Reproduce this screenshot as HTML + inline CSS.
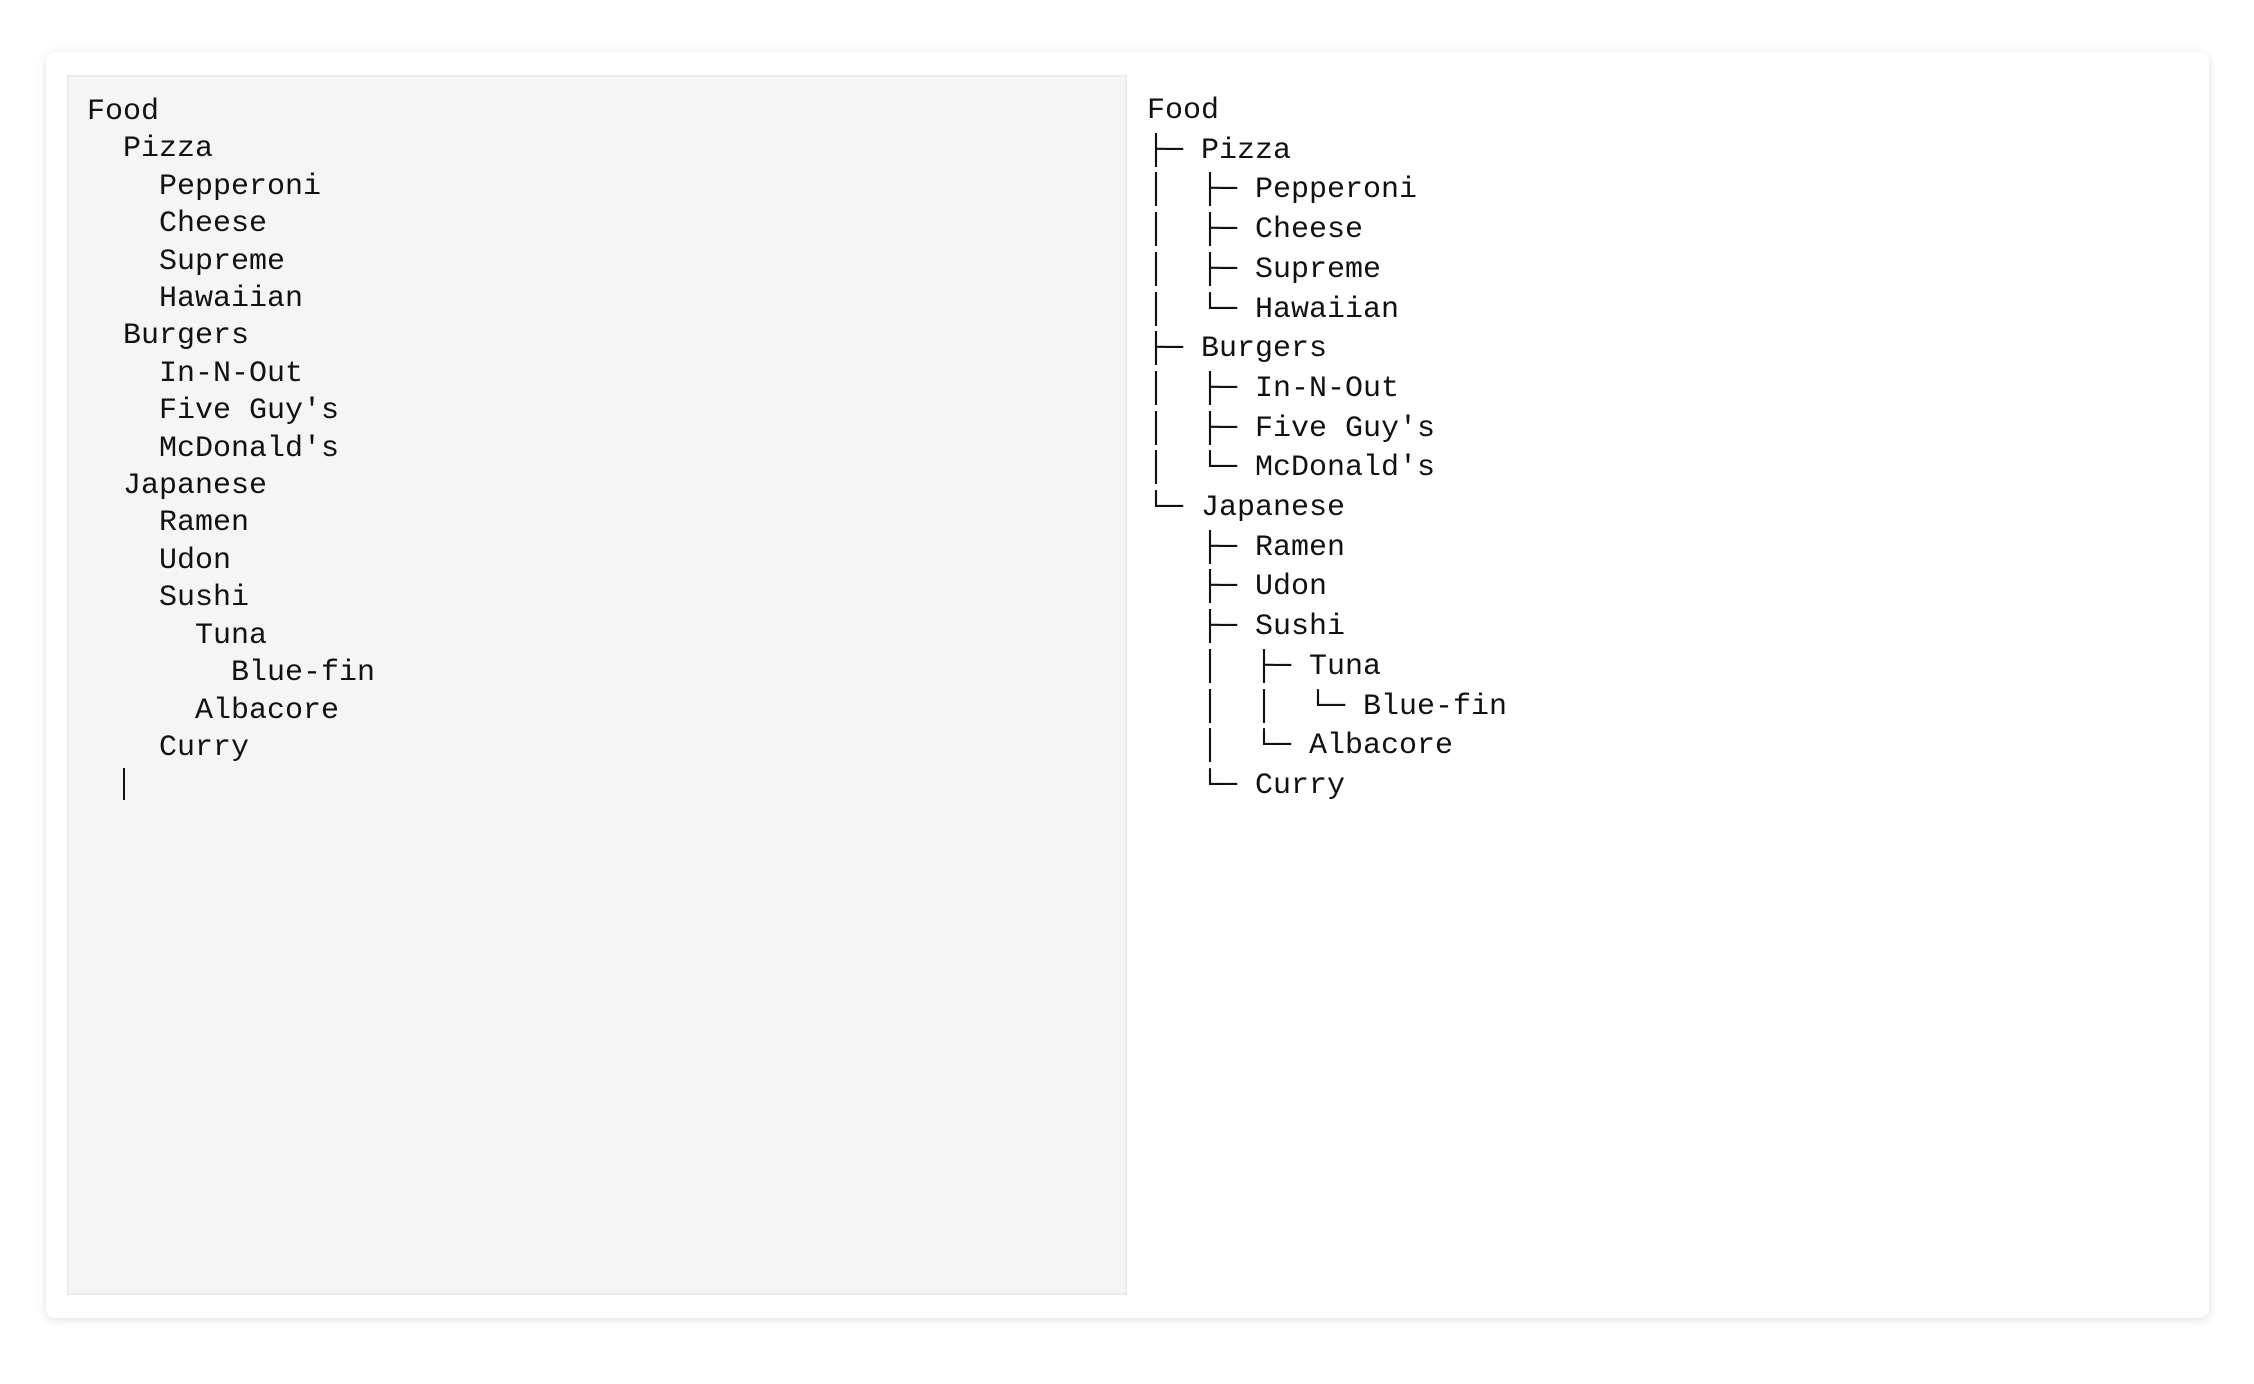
<!DOCTYPE html>
<html><head><meta charset="utf-8"><style>
html,body{margin:0;padding:0;background:#fff;width:2254px;height:1384px;overflow:hidden}
.card{position:absolute;left:46px;top:52px;width:2163px;height:1266px;background:#fff;border-radius:9px;box-shadow:0 2px 10px rgba(0,0,0,0.13)}
.left{position:absolute;left:67px;top:75px;width:1060px;height:1220px;background:#f5f5f5;box-shadow:inset 0 0 3px rgba(0,0,0,0.12)}
pre{margin:0;position:absolute;font-family:"Liberation Mono","DejaVu Sans Mono",monospace;font-size:30px;color:#111;white-space:pre}
.lt{left:87px;top:94px;line-height:37.4px}
.rt{left:1147px;top:92px;line-height:39.7px}
.cur{position:absolute;left:123px;top:768px;width:2px;height:32px;background:#111}
</style></head><body>
<div class="card"></div>
<div class="left"></div>
<pre class="lt">Food
  Pizza
    Pepperoni
    Cheese
    Supreme
    Hawaiian
  Burgers
    In-N-Out
    Five Guy's
    McDonald's
  Japanese
    Ramen
    Udon
    Sushi
      Tuna
        Blue-fin
      Albacore
    Curry</pre>
<div class="cur"></div>
<pre class="rt">Food
├─ Pizza
│  ├─ Pepperoni
│  ├─ Cheese
│  ├─ Supreme
│  └─ Hawaiian
├─ Burgers
│  ├─ In-N-Out
│  ├─ Five Guy's
│  └─ McDonald's
└─ Japanese
   ├─ Ramen
   ├─ Udon
   ├─ Sushi
   │  ├─ Tuna
   │  │  └─ Blue-fin
   │  └─ Albacore
   └─ Curry</pre>
</body></html>
